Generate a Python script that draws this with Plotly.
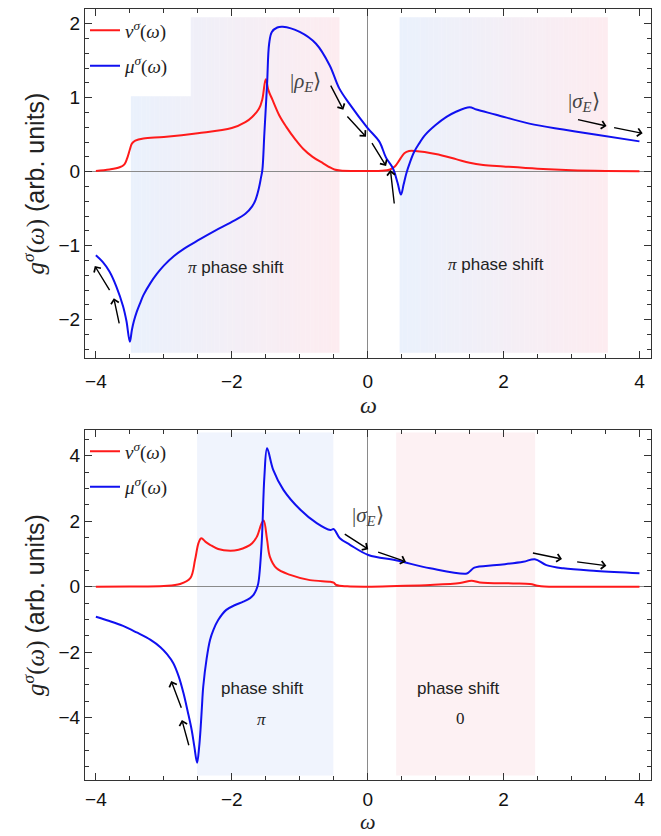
import plotly.graph_objects as go
import numpy as np

# ---------------- data ----------------
top_nu_w = [-4.0, -3.8, -3.65, -3.58, -3.54, -3.5, -3.47, -3.42, -3.3, -3.0, -2.5, -2.0, -1.8, -1.7,
            -1.6, -1.55, -1.5, -1.46, -1.4, -1.3, -1.2, -1.06, -0.95, -0.81, -0.65, -0.56, -0.49,
            -0.4, -0.2, 0.0, 0.2, 0.33, 0.4, 0.47, 0.54, 0.61, 0.7, 1.0, 1.3, 1.5, 1.7, 2.0, 2.5,
            3.0, 3.5, 4.0]
top_nu_g = [0.01, 0.03, 0.06, 0.10, 0.18, 0.30, 0.38, 0.42, 0.45, 0.47, 0.52, 0.59, 0.67, 0.74,
            0.85, 0.98, 1.25, 1.10, 0.97, 0.76, 0.61, 0.43, 0.31, 0.20, 0.11, 0.06, 0.03,
            0.015, 0.01, 0.01, 0.012, 0.03, 0.07, 0.16, 0.25, 0.28, 0.28, 0.24, 0.17, 0.12, 0.09,
            0.07, 0.04, 0.02, 0.01, 0.005]

top_mu_w = [-4.0, -3.9, -3.8, -3.7, -3.6, -3.55, -3.5, -3.47, -3.44, -3.4, -3.35, -3.3, -3.2,
            -3.1, -3.0, -2.85, -2.7, -2.5, -2.25, -2.0, -1.8, -1.7, -1.65, -1.60, -1.57, -1.55,
            -1.52, -1.48, -1.45, -1.41, -1.33, -1.25, -1.0, -0.76, -0.56, -0.42, -0.27, 0.0, 0.17,
            0.27, 0.37, 0.44, 0.49, 0.53, 0.57, 0.62, 0.68, 0.75, 0.85, 1.0, 1.16, 1.3, 1.5, 1.6,
            1.89, 2.38, 2.88, 3.37, 4.0]
top_mu_g = [-1.13, -1.22, -1.35, -1.55, -1.82, -2.02, -2.30, -2.14, -2.02, -1.90, -1.78, -1.67,
            -1.51, -1.38, -1.27, -1.14, -1.04, -0.93, -0.80, -0.68, -0.57, -0.47, -0.38, -0.22,
            -0.08, 0.02, 0.52, 1.19, 1.73, 1.89, 1.95, 1.96, 1.89, 1.73, 1.44, 1.13, 0.92, 0.59,
            0.41, 0.19, 0.05, -0.15, -0.31, -0.17, -0.02, 0.12, 0.26, 0.37, 0.50, 0.63, 0.74,
            0.81, 0.87, 0.84, 0.77, 0.65, 0.57, 0.50, 0.41]

bot_nu_w = [-4.0, -3.5, -3.0, -2.76, -2.61, -2.54, -2.49, -2.45, -2.38, -2.32, -2.2, -2.02, -1.9,
            -1.78, -1.7, -1.63, -1.56, -1.53, -1.48, -1.44, -1.34, -1.14, -0.85, -0.55, -0.5,
            -0.46, -0.3, 0.0, 0.43, 0.92, 1.36, 1.53, 1.65, 2.14, 2.39, 2.5, 2.6, 3.0, 4.0]
bot_nu_g = [0.0, 0.005, 0.02, 0.08, 0.26, 0.82, 1.33, 1.48, 1.36, 1.28, 1.15, 1.10, 1.13,
            1.22, 1.33, 1.53, 1.94, 2.02, 1.43, 0.92, 0.56, 0.36, 0.20, 0.15, 0.12,
            0.05, 0.01, 0.0, 0.02, 0.05, 0.11, 0.18, 0.13, 0.10, 0.08, 0.03, 0.005, 0.0, 0.0]

bot_mu_w = [-4.0, -3.8, -3.6, -3.4, -3.2, -3.05, -2.95, -2.86, -2.78, -2.71, -2.65, -2.59, -2.55,
            -2.51, -2.48, -2.46, -2.44, -2.42, -2.37, -2.32, -2.27, -2.2, -2.08, -1.95, -1.83,
            -1.73, -1.68, -1.64, -1.61, -1.56, -1.52, -1.48, -1.39, -1.24, -0.99, -0.75, -0.55,
            -0.5, -0.41, -0.26, 0.01, 0.43, 0.92, 1.46, 1.51, 1.57, 1.9, 2.29, 2.46, 2.63, 2.88,
            3.37, 4.0]
bot_mu_g = [-0.92, -1.05, -1.20, -1.40, -1.62, -1.85, -2.07, -2.34, -2.75, -3.26, -3.80, -4.38,
            -4.90, -5.38, -4.90, -4.38, -3.70, -3.06, -2.20, -1.63, -1.32, -1.02, -0.71, -0.56,
            -0.46, -0.35, -0.25, -0.10, 0.10, 1.33, 3.36, 4.23, 3.57, 2.96, 2.35, 1.94, 1.73,
            1.76, 1.48, 1.28, 0.97, 0.80, 0.56, 0.40, 0.48, 0.58, 0.66, 0.76, 0.84, 0.66, 0.56,
            0.48, 0.41]

x_ticks = [-4, -2, 0, 2, 4]
legend_names = ["<i>ν</i><sup><i>σ</i></sup>(<i>ω</i>)", "<i>μ</i><sup><i>σ</i></sup>(<i>ω</i>)"]

# ---------------- styling ----------------
RED = "#ff1a1a"
BLUE = "#1010f0"
SANS = "Liberation Sans"
SERIF = "Liberation Serif"

fig = go.Figure()

def curve(w, g, color, name, xa, ya, leg, grp):
    fig.add_trace(go.Scatter(x=w, y=g, mode="lines", name=name,
                             line=dict(color=color, width=2, shape="spline", smoothing=1.0),
                             xaxis=xa, yaxis=ya, legend=leg, legendgroup=grp,
                             hoverinfo="skip"))

curve(top_nu_w, top_nu_g, RED, legend_names[0], "x", "y", "legend", "a")
curve(top_mu_w, top_mu_g, BLUE, legend_names[1], "x", "y", "legend", "b")
curve(bot_nu_w, bot_nu_g, RED, legend_names[0], "x2", "y2", "legend2", "c")
curve(bot_mu_w, bot_mu_g, BLUE, legend_names[1], "x2", "y2", "legend2", "d")

# ---------------- shaded regions (gradient via thin rectangles) ----------------
shapes = []
def gradient(x0, x1, y0, y1, c0, c1, xref, yref, n=80, cut=None):
    edges = np.linspace(x0, x1, n + 1)
    for i in range(n):
        t = i / max(n - 1, 1)
        c = [round(c0[k] + (c1[k] - c0[k]) * t) for k in range(3)]
        top = y1
        if cut is not None and edges[i] < cut[0]:
            top = cut[1]
        shapes.append(dict(type="rect", xref=xref, yref=yref, x0=edges[i], x1=edges[i + 1] + 0.005,
                           y0=y0, y1=top, layer="below", line=dict(width=0),
                           fillcolor=f"rgb({c[0]},{c[1]},{c[2]})"))

blue_t, pink_t = (234, 241, 252), (253, 236, 240)
gradient(-3.485, -0.42, -2.45, 2.09, blue_t, pink_t, "x", "y", cut=(-2.62, 1.02))
gradient(0.47, 3.53, -2.45, 2.09, blue_t, pink_t, "x", "y")
gradient(-2.51, -0.51, -5.77, 4.71, (240, 244, 253), (240, 244, 253), "x2", "y2", n=1)
gradient(0.42, 2.46, -5.77, 4.71, (253, 241, 243), (253, 241, 243), "x2", "y2", n=1)

# ---------------- annotations ----------------
ann = []
def arrow(xt, yt, xh, yh, xr, yr):
    ann.append(dict(x=xh, y=yh, ax=xt, ay=yt, xref=xr, yref=yr, axref=xr, ayref=yr,
                    text="", showarrow=True, arrowhead=4, arrowsize=1.1, arrowwidth=1.4,
                    arrowcolor="black", standoff=0, startstandoff=0))

def label(x, y, text, xr, yr, size=17, color="#333"):
    ann.append(dict(x=x, y=y, xref=xr, yref=yr, text=text, showarrow=False,
                    xanchor="center", yanchor="middle",
                    font=dict(family=SANS, size=size, color=color)))

ket_rho = f"<span style='font-family:{SERIF}'>|<i>ρ</i><sub><i>E</i></sub>⟩</span>"
ket_sig = f"<span style='font-family:{SERIF}'>|<i>σ</i><sub><i>E</i></sub>⟩</span>"
pi_ps = f"<span style='font-family:{SERIF}'><i>π</i></span> phase shift"

# top panel arrows
arrow(-0.555, 1.185, -0.358, 0.836, "x", "y")
arrow(-0.319, 0.766, -0.024, 0.473, "x", "y")
arrow(0.050, 0.405, 0.271, 0.077, "x", "y")
arrow(0.394, -0.45, 0.335, 0.023, "x", "y")
arrow(3.074, 0.708, 3.516, 0.618, "x", "y")
arrow(3.605, 0.600, 4.047, 0.519, "x", "y")
arrow(-3.785, -1.622, -4.016, -1.274, "x", "y")
arrow(-3.652, -2.072, -3.736, -1.711, "x", "y")
label(-0.919, 1.212, ket_rho, "x", "y", 21, "#444")
label(3.181, 0.942, ket_sig, "x", "y", 21, "#444")
label(-1.932, -1.297, pi_ps, "x", "y", 17, "#222")
label(1.894, -1.261, pi_ps, "x", "y", 17, "#222")

# bottom panel arrows
arrow(-0.359, 1.633, 0.009, 1.144, "x2", "y2")
arrow(0.132, 1.070, 0.563, 0.765, "x2", "y2")
arrow(2.410, 1.040, 2.860, 0.847, "x2", "y2")
arrow(3.061, 0.765, 3.513, 0.642, "x2", "y2")
arrow(-2.734, -3.749, -2.891, -2.884, "x2", "y2")
arrow(-2.626, -4.893, -2.734, -4.076, "x2", "y2")
label(0.004, 2.16, ket_sig, "x2", "y2", 21, "#444")
label(-1.558, -3.107, "phase shift", "x2", "y2", 17, "#222")
label(-1.558, -4.046, f"<span style='font-family:{SERIF}'><i>π</i></span>", "x2", "y2", 17, "#222")
label(1.332, -3.107, "phase shift", "x2", "y2", 17, "#222")
label(1.371, -4.02, f"<span style='font-family:{SERIF}'>0</span>", "x2", "y2", 17, "#222")

# x-axis titles
ann.append(dict(x=0.500, y=0.4865, xref="paper", yref="paper", text="<i>ω</i>",
                xanchor="center", yanchor="middle",
                showarrow=False, font=dict(family=SERIF, size=24, color="#222")))
ann.append(dict(x=0.500, y=-0.0725, xref="paper", yref="paper", text="<i>ω</i>",
                xanchor="center", yanchor="bottom",
                showarrow=False, font=dict(family=SERIF, size=22, color="#222")))

ytitle = (f"<span style='font-family:{SERIF}'><i>g</i><sup><i>σ</i></sup>(<i>ω</i>)</span> (arb. units)")

# ---------------- axes ----------------
def xaxis(domain_anchor, standoff):
    return dict(range=[-4.16, 4.17], tickvals=x_ticks, ticks="inside", ticklen=7, tickwidth=1,
                tickcolor="#333", showline=True, linecolor="#333", linewidth=1, mirror="allticks",
                showgrid=False, zeroline=True, zerolinecolor="#8a8a8a", zerolinewidth=1,
                minor=dict(dtick=0.5, ticks="inside", ticklen=4, tickcolor="#333", showgrid=False),
                tickfont=dict(family=SANS, size=19, color="#111"), anchor=domain_anchor,
                ticklabelstandoff=standoff)

def yaxis(rng, dtick, mdtick, dom, anchor):
    return dict(range=rng, dtick=dtick, domain=dom, anchor=anchor, ticks="inside", ticklen=7,
                tickcolor="#333", showline=True, linecolor="#333", linewidth=1, mirror="allticks",
                showgrid=False, zeroline=True, zerolinecolor="#8a8a8a", zerolinewidth=1,
                minor=dict(dtick=mdtick, ticks="inside", ticklen=4, tickcolor="#333", showgrid=False),
                tickfont=dict(family=SANS, size=19, color="#111"),
                title=dict(text=ytitle, standoff=6, font=dict(family=SANS, size=25, color="#222")))

legend_common = dict(bgcolor="rgba(0,0,0,0)", font=dict(family=SERIF, size=19, color="#222"),
                     tracegroupgap=8, xanchor="left", yanchor="top", itemwidth=30)

fig.update_layout(
    width=661, height=836,
    margin=dict(l=85, r=10, t=9, b=56),
    paper_bgcolor="white", plot_bgcolor="white",
    xaxis=xaxis("y", 6),
    yaxis=yaxis([-2.52, 2.2], 1, 0.2, [0.5473, 1.0], "x"),
    xaxis2=xaxis("y2", 2),
    yaxis2=yaxis([-5.91, 4.79], 2, 0.5, [0.0, 0.454], "x2"),
    legend=dict(x=0.0, y=0.997, **legend_common),
    legend2=dict(x=0.0, y=0.451, **legend_common),
    shapes=shapes,
    annotations=ann,
    showlegend=True,
)

fig.write_html("out.html")
